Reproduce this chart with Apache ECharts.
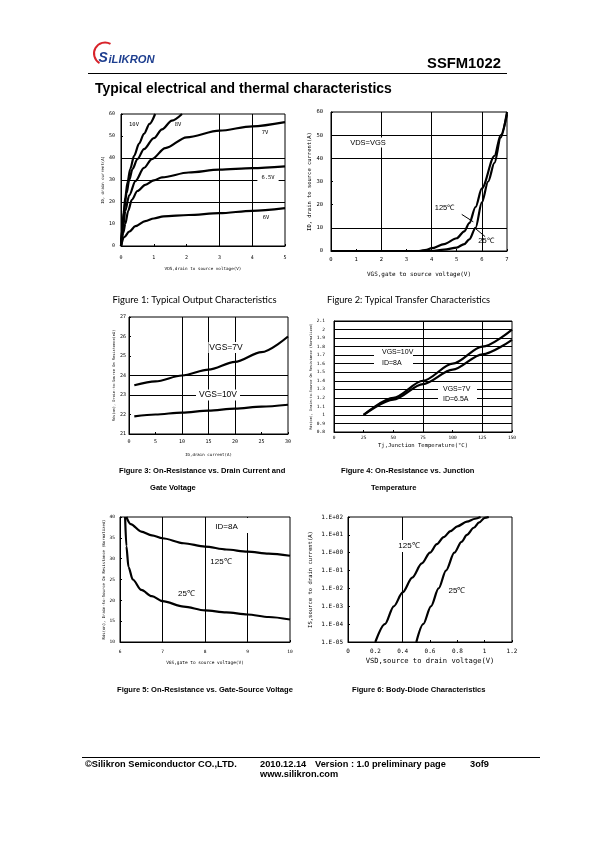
<!DOCTYPE html>
<html><head><meta charset="utf-8">
<script src="https://cdn.jsdelivr.net/npm/echarts@6/dist/echarts.min.js"></script>
<style>html,body{margin:0;padding:0;background:#fff}#c{width:595px;height:842px}</style>
</head><body><div id="c"></div>
<script>
// ---------- Figure 1: Typical Output Characteristics ----------
const f1Names = ['10V', '8V', '7V', '6.5V', '6V'];
const f1_10V = [[0,0],[0.04,8],[0.08,15],[0.13,22],[0.2,29],[0.28,35],[0.4,41],[0.55,46.5],[0.7,51],[0.87,55.5],[1.04,60]];
const f1_8V = [[0,0],[0.05,9],[0.1,17],[0.17,24],[0.25,30],[0.35,35],[0.5,39.5],[0.7,44],[1.0,49],[1.25,53],[1.55,57],[1.86,60]];
const f1_7V = [[0,0],[0.07,9],[0.13,16],[0.25,23],[0.44,29.5],[0.7,35.5],[0.94,39.5],[1.35,44.5],[2.0,49.4],[3,52.4],[4,54.4],[5,56.3]];
const f1_65V = [[0,0],[0.07,6],[0.13,10],[0.22,16],[0.33,21],[0.5,25],[0.74,27.8],[1.0,29.8],[1.25,31.2],[2.06,33.4],[3,34.7],[4,35.4],[5,36.2]];
const f1_6V = [[0,0],[0.1,4],[0.25,6.5],[0.44,9],[0.74,11.3],[1.0,12.5],[1.3,13.5],[2.06,14.1],[3,14.9],[4,16],[5,17.2]];

// ---------- Figure 2: Typical Transfer Characteristics ----------
const f2_125C = [[0,0],[3.5,0],[3.8,0.5],[4,1.2],[4.5,3],[5,5.5],[5.3,8.5],[5.5,12],[5.75,19],[6,27],[6.5,41],[6.75,50],[7,59]];
const f2_25C = [[0,0],[4,0],[4.5,0.6],[5,1.5],[5.3,3],[5.5,5],[5.75,10],[6,21],[6.25,30],[6.5,38],[6.75,49],[7,60]];
const f2_lead125 = [[5.2, 15.8], [5.66, 12.6]];
const f2_lead25 = [[5.7, 10.1], [6.13, 6.2]];

// ---------- Figure 3: On-Resistance vs Drain Current ----------
const f3_id = [1, 5, 10, 15, 20, 25, 30];
const f3_vgs7 = [23.5, 23.7, 24.0, 24.3, 24.7, 25.2, 26.0];
const f3_vgs10 = [21.9, 22.0, 22.1, 22.2, 22.3, 22.4, 22.5];

// ---------- Figure 4: On-Resistance vs Junction Temperature ----------
const f4_tj = [25, 50, 75, 100, 125, 150];
const f4_vgs10 = [1.0, 1.2, 1.4, 1.6, 1.8, 2.0];
const f4_vgs7 = [1.0, 1.18, 1.36, 1.53, 1.71, 1.88];

// ---------- Figure 5: On-Resistance vs Gate-Source Voltage ----------
const f5_125C = [[6.15,40],[6.25,38.3],[6.5,36.5],[6.75,35.6],[7,34.9],[7.5,33.7],[8,32.9],[8.5,32.2],[9,31.7],[9.5,31.2],[10,30.7]];
const f5_25C = [[6.12,40],[6.15,33],[6.2,28],[6.3,25],[6.5,22.5],[6.75,21],[7,19.8],[7.5,18.5],[8,17.6],[8.5,17.1],[9,16.6],[9.5,16.0],[10,15.4]];

// ---------- Figure 6: Body-Diode Characteristics ----------
const f6_125C = [[0.2,1e-5],[0.27,1e-4],[0.335,1e-3],[0.4,6e-3],[0.47,4e-2],[0.54,0.25],[0.6,1],[0.65,3],[0.7,7.5],[0.75,16],[0.8,30],[0.87,55],[0.93,80],[0.97,100]];
const f6_25C = [[0.5,1e-5],[0.55,1e-4],[0.607,1e-3],[0.663,1e-2],[0.717,0.1],[0.778,1],[0.83,4],[0.87,10],[0.92,25],[0.96,50],[1.0,90],[1.03,100]];

// ---------- helpers ----------
const MONO = 'DejaVu Sans Mono';
const SANS = 'Liberation Sans';
const mctx = document.createElement('canvas').getContext('2d');
function fit(text, weight, family, w) {
  mctx.font = weight + ' 100px ' + family;
  return +(100 * w / mctx.measureText(text).width).toFixed(2);
}
function grid(left, top, width, height) {
  return {left, top, width, height, show: true, borderColor: '#000', borderWidth: 1,
    backgroundColor: 'transparent', containLabel: false, outerBoundsMode: 'none'};
}
function axis(gi, o) {
  return {
    gridIndex: gi, type: o.type || 'value', min: o.min, max: o.max, interval: o.interval,
    name: o.name, nameLocation: 'middle', nameGap: o.nameGap,
    nameTextStyle: {fontFamily: MONO, fontSize: o.nameSize, color: '#000'},
    axisLine: {show: true, lineStyle: {color: '#000', width: 1}},
    axisTick: {show: true, inside: true, length: 2, lineStyle: {color: '#000'}},
    axisLabel: {fontFamily: MONO, fontSize: o.labelSize, color: '#000', margin: o.margin, formatter: o.formatter},
    splitLine: {show: !!o.split, lineStyle: {color: '#000', width: 1}}
  };
}
function gl(xs, ys, segs) {
  const d = [];
  (xs || []).forEach(v => d.push({xAxis: v}));
  (ys || []).forEach(v => d.push({yAxis: v}));
  (segs || []).forEach(s => d.push([{coord: s[0]}, {coord: s[1]}]));
  return {silent: true, symbol: ['none', 'none'], label: {show: false},
    lineStyle: {type: 'solid', color: '#000', width: 1}, data: d, animation: false};
}
function line(gi, data, ml) {
  const s = {type: 'line', xAxisIndex: gi, yAxisIndex: gi, data, showSymbol: false, smooth: 0.3,
    smoothMonotone: 'x', lineStyle: {color: '#000', width: 2.2}, itemStyle: {color: '#000'}, silent: true, z: 5};
  if (ml) s.markLine = ml;
  return s;
}
function zip(xs, ys) { return xs.map((x, i) => [x, ys[i]]); }
function txt(x, y, text, size, o) {
  o = o || {};
  return {type: 'text', x, y, z: 100, silent: true, style: Object.assign({
    text, fontSize: size, fontFamily: o.family || SANS, fontWeight: o.weight || 'normal',
    fontStyle: o.style || 'normal', fill: o.fill || '#000', align: o.align || 'left',
    verticalAlign: o.va || 'middle'}, o.extra || {})};
}
function bold(x, y, text, size) { return txt(x, y, text, size, {weight: 'bold'}); }
function rect(x, y, w, h) {
  return {type: 'rect', z: 99, silent: true, shape: {x, y, width: w, height: h}, style: {fill: '#fff'}};
}
function logFmt(v) {
  const e = Math.round(Math.log10(v));
  return '1.E' + (e < 0 ? '-' : '+') + String(Math.abs(e)).padStart(2, '0');
}

const names = {
  x1: 'VDS,drain to source voltage(V)', y1: 'ID, drain current(A)',
  x2: 'VGS,gate to source voltage(V)', y2: 'ID, drain to source current(A)',
  x3: 'ID,drain current(A)', y3: 'Rds(on), Drain-to-Source On Resistance(mΩ)',
  x4: 'Tj,Junction Temperature(°C)', y4: 'Rds(on), Drain-to-Source On Resistance (Normalized)',
  x5: 'VGS,gate to source voltage(V)', y5: 'Rds(on), Drain-to-Source On Resistance (Normalized)',
  x6: 'VSD,source to drain voltage(V)', y6: 'IS,source to drain current(A)'
};
const capSize = fit('Figure 5: On-Resistance vs. Gate-Source Voltage', 'bold', SANS, 176);
const footSize = fit('©Silikron Semiconductor CO.,LTD.', 'bold', SANS, 152);

const option = {
  animation: false,
  backgroundColor: '#fff',
  grid: [grid(121, 114, 164, 132), grid(331, 112, 176, 139), grid(129, 317, 159, 117),
         grid(334, 321, 178, 111), grid(120, 517, 170, 125), grid(348, 517, 164, 125)],
  xAxis: [
    axis(0, {min: 0, max: 5, interval: 1, name: names.x1, nameGap: 21, nameSize: fit(names.x1, 'normal', MONO, 77), labelSize: 5, margin: 9}),
    axis(1, {min: 0, max: 7, interval: 1, name: names.x2, nameGap: 20, nameSize: fit(names.x2, 'normal', MONO, 104), labelSize: 5.5, margin: 6}),
    axis(2, {min: 0, max: 30, interval: 5, name: names.x3, nameGap: 19, nameSize: fit(names.x3, 'normal', MONO, 47), labelSize: 5, margin: 5}),
    axis(3, {min: 0, max: 150, interval: 25, name: names.x4, nameGap: 11, nameSize: fit(names.x4, 'normal', MONO, 90), labelSize: 4.5, margin: 3}),
    axis(4, {min: 6, max: 10, interval: 1, name: names.x5, nameGap: 19, nameSize: fit(names.x5, 'normal', MONO, 78), labelSize: 4.5, margin: 7}),
    axis(5, {min: 0, max: 1.2, interval: 0.2, name: names.x6, nameGap: 16, nameSize: fit(names.x6, 'normal', MONO, 129), labelSize: 6, margin: 6})
  ],
  yAxis: [
    axis(0, {min: 0, max: 60, interval: 10, name: names.y1, nameGap: 13, nameSize: fit(names.y1, 'normal', MONO, 48), labelSize: 5, margin: 6}),
    axis(1, {min: 0, max: 60, interval: 10, name: names.y2, nameGap: 13, nameSize: fit(names.y2, 'normal', MONO, 99), labelSize: 5.5, margin: 8}),
    axis(2, {min: 21, max: 27, interval: 1, name: names.y3, nameGap: 12, nameSize: fit(names.y3, 'normal', MONO, 92), labelSize: 5, margin: 3}),
    axis(3, {min: 0.8, max: 2.1, interval: 0.1, name: names.y4, nameGap: 19, nameSize: fit(names.y4, 'normal', MONO, 107), labelSize: 4.5, margin: 9, split: true}),
    axis(4, {min: 10, max: 40, interval: 5, name: names.y5, nameGap: 10, nameSize: fit(names.y5, 'normal', MONO, 120), labelSize: 4.5, margin: 5}),
    axis(5, {type: 'log', min: 1e-5, max: 100, name: names.y6, nameGap: 34, nameSize: fit(names.y6, 'normal', MONO, 97), labelSize: 6, margin: 5, formatter: logFmt})
  ],
  series: [
    line(0, f1_10V, gl([3, 4], [20, 30, 40])), line(0, f1_8V), line(0, f1_7V), line(0, f1_65V), line(0, f1_6V),
    line(1, f2_125C, gl([2, 4, 6], [10, 40, 50], [f2_lead125, f2_lead25])), line(1, f2_25C),
    line(2, zip(f3_id, f3_vgs7), gl([10, 15, 20], [23, 24])), line(2, zip(f3_id, f3_vgs10)),
    line(3, zip(f4_tj, f4_vgs10), gl([75, 125], [])), line(3, zip(f4_tj, f4_vgs7)),
    line(4, f5_125C, gl([7, 8, 9], [])), line(4, f5_25C),
    line(5, f6_125C, gl([0.4], [1e-4])), line(5, f6_25C)
  ],
  graphic: [
    // header
    {type: 'arc', silent: true, z: 100, shape: {cx: 105, cy: 53.5, r: 11, startAngle: 2 * Math.PI / 3, endAngle: 5 * Math.PI / 3},
      style: {stroke: '#d8232a', lineWidth: 2, fill: null}},
    txt(98.5, 58.5, 'S', 14, {weight: 'bold', style: 'italic', fill: '#1d3e8f'}),
    txt(108.5, 59.5, 'iLIKRON', fit('iLIKRON', 'bold', SANS, 46), {weight: 'bold', style: 'italic', fill: '#1d3e8f'}),
    txt(501, 63.5, 'SSFM1022', fit('SSFM1022', 'bold', SANS, 74), {weight: 'bold', align: 'right'}),
    {type: 'line', silent: true, z: 100, shape: {x1: 88, y1: 73.5, x2: 507, y2: 73.5}, style: {stroke: '#000', lineWidth: 1.2}},
    txt(95, 89.5, 'Typical electrical and thermal characteristics', fit('Typical electrical and thermal characteristics', 'bold', SANS, 297), {weight: 'bold'}),
    // figure 1 labels
    txt(134, 125, f1Names[0], 5.5, {family: MONO, align: 'center'}),
    txt(178, 125, f1Names[1], 5.5, {family: MONO, align: 'center'}),
    txt(265, 133, f1Names[2], 5.5, {family: MONO, align: 'center'}),
    txt(268, 178, f1Names[3], 5.5, {family: MONO, align: 'center', extra: {backgroundColor: '#fff', padding: [1, 4]}}),
    txt(266, 218, f1Names[4], 5.5, {family: MONO, align: 'center'}),
    // figure 2 labels
    txt(368, 142.5, 'VDS=VGS', 7.5, {align: 'center', extra: {backgroundColor: '#fff', padding: [1, 1]}}),
    txt(444.5, 208, '125℃', 7.5, {align: 'center'}),
    txt(486, 241, '25℃', 7.5, {align: 'center'}),
    // figure 3 labels
    txt(226, 347.5, 'VGS=7V', 8.5, {align: 'center', extra: {backgroundColor: '#fff', padding: [1, 1]}}),
    txt(218, 395, 'VGS=10V', 8.5, {align: 'center', extra: {backgroundColor: '#fff', padding: [1, 3]}}),
    // figure 4 labels
    rect(374, 348, 39, 20),
    txt(382, 352.5, 'VGS=10V', 7, {}),
    txt(382, 363, 'ID=8A', 7, {}),
    rect(438, 385, 39, 19),
    txt(443, 389, 'VGS=7V', 7, {}),
    txt(443, 399.5, 'ID=6.5A', 7, {}),
    // figure 5 labels
    rect(207, 518, 43, 15),
    txt(226.5, 526.5, 'ID=8A', 8, {align: 'center'}),
    txt(221, 562, '125℃', 8, {align: 'center'}),
    txt(186.5, 594, '25℃', 8, {align: 'center'}),
    // figure 6 labels
    txt(409, 546, '125℃', 8, {align: 'center', extra: {backgroundColor: '#fff', padding: [2, 1]}}),
    txt(457, 591, '25℃', 8, {align: 'center'}),
    // captions
    txt(112.5, 300, 'Figure 1: Typical Output Characteristics', fit('Figure 1: Typical Output Characteristics', 'normal', 'Lato', 164), {family: 'Lato'}),
    txt(327, 300, 'Figure 2: Typical Transfer Characteristics', fit('Figure 2: Typical Transfer Characteristics', 'normal', 'Lato', 163), {family: 'Lato'}),
    bold(119, 470.5, 'Figure 3: On-Resistance vs. Drain Current and', capSize),
    bold(150, 487.5, 'Gate Voltage', capSize),
    bold(341, 470.5, 'Figure 4: On-Resistance vs. Junction', capSize),
    bold(371, 487.5, 'Temperature', capSize),
    bold(117, 690, 'Figure 5: On-Resistance vs. Gate-Source Voltage', capSize),
    bold(352, 690, 'Figure 6: Body-Diode Characteristics', capSize),
    // footer
    {type: 'line', silent: true, z: 100, shape: {x1: 82, y1: 757.5, x2: 540, y2: 757.5}, style: {stroke: '#000', lineWidth: 1}},
    bold(85, 764, '©Silikron Semiconductor CO.,LTD.', footSize),
    bold(260, 764, '2010.12.14', footSize),
    bold(315, 764, 'Version : 1.0 preliminary page', footSize),
    bold(470, 764, '3of9', footSize),
    bold(260, 774, 'www.silikron.com', footSize)
  ]
};
const chart = echarts.init(document.getElementById('c'), null, {renderer: 'canvas'});
chart.setOption(option);
</script>
</body></html>
